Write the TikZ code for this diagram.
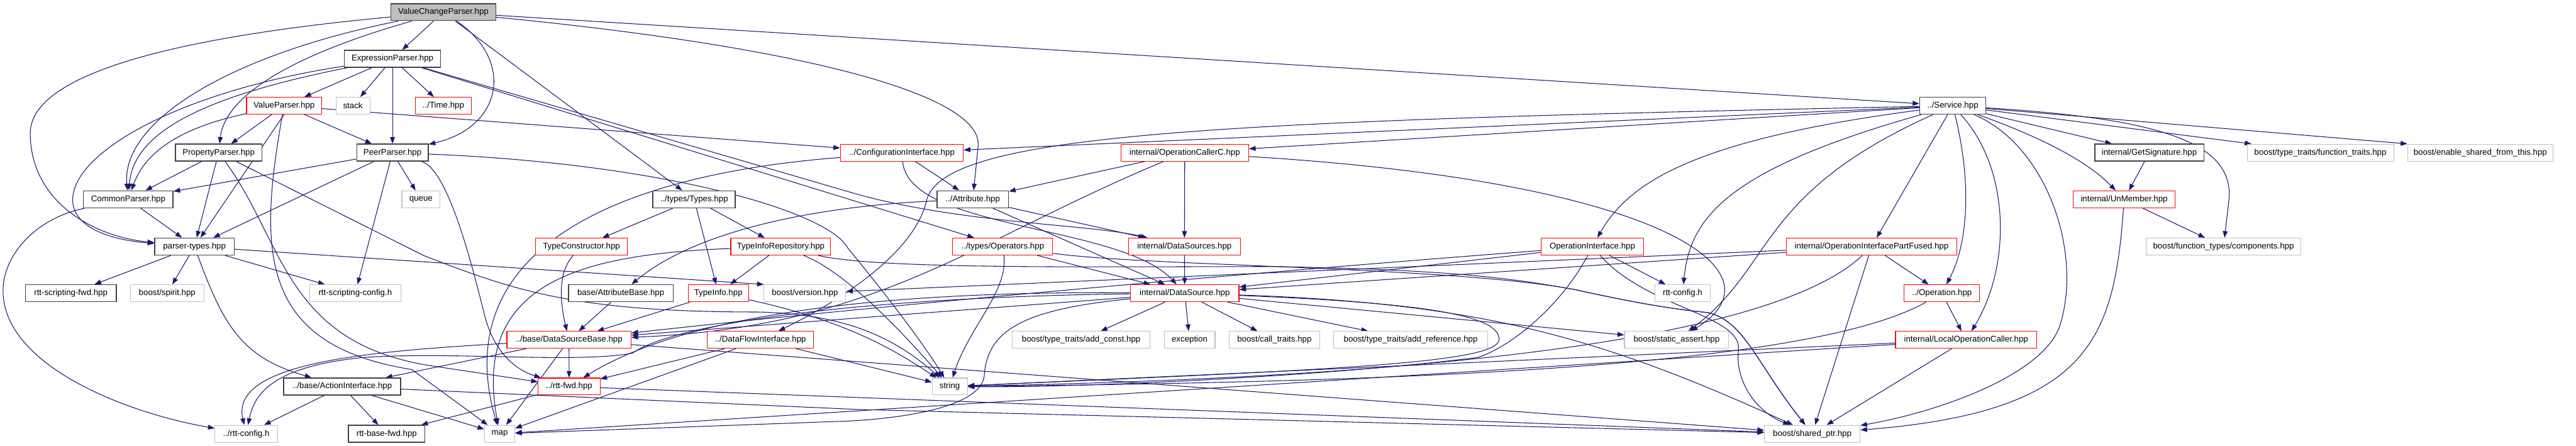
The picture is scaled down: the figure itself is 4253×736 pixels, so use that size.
\documentclass[tikz,border=0pt]{standalone}
\usepackage{fontspec}
\setmainfont{Liberation Sans}
\usetikzlibrary{arrows.meta,backgrounds}
\definecolor{dxnavy}{HTML}{191970}
\definecolor{dxred}{HTML}{FF0000}
\definecolor{dxgray}{HTML}{BFBFBF}
\definecolor{dxdark}{HTML}{404040}
\tikzset{
  box/.style={draw,fill=white,line width=1.1pt,minimum height=28pt,inner sep=0pt,font=\fontsize{13.8}{16}\selectfont},
  rootbox/.style={box,fill=dxgray,draw=dxdark,line width=1.5pt},
  docbox/.style={box,draw=dxdark,line width=1.5pt},
  redbox/.style={box,draw=dxred},
  sysbox/.style={box,draw=dxgray},
  wd/.style={minimum width=#1pt},
  ar/.style={-{Triangle[length=11pt,width=8pt]},draw=dxnavy,line width=1.1pt},
}

\begin{document}
\begin{tikzpicture}[x=1pt,y=-1pt]
\useasboundingbox (0,0) rectangle (4253,736);
% files
\node[rootbox,wd=173] (vcp) at (732,20) {ValueChangeParser.hpp};
\node[docbox,wd=159] (ep) at (648,97) {ExpressionParser.hpp};
\node[redbox,wd=124] (vp) at (469,174.5) {ValueParser.hpp};
\node[sysbox,wd=56] (stack) at (582.6,174.5) {stack};
\node[redbox,wd=93] (time) at (732,174.5) {../Time.hpp};
\node[docbox,wd=109] (svc) at (3224,174.5) {../Service.hpp};
\node[docbox,wd=143] (pp) at (361,252) {PropertyParser.hpp};
\node[docbox,wd=118] (peer) at (648,252) {PeerParser.hpp};
\node[redbox,wd=203] (ci) at (1489,252) {../ConfigurationInterface.hpp};
\node[redbox,wd=211] (occ) at (1956,252) {internal/OperationCallerC.hpp};
\node[docbox,wd=180] (gs) at (3548.5,252) {internal/GetSignature.hpp};
\node[sysbox,wd=242] (ft) at (3831,252) {boost/type\_traits/function\_traits.hpp};
\node[sysbox,wd=240] (esft) at (4095,252) {boost/enable\_shared\_from\_this.hpp};
\node[docbox,wd=148] (cp) at (211.7,329) {CommonParser.hpp};
\node[sysbox,wd=63] (queue) at (695,329) {queue};
\node[docbox,wd=136] (types) at (1146,329) {../types/Types.hpp};
\node[docbox,wd=118] (attr) at (1606,329) {../Attribute.hpp};
\node[redbox,wd=168] (um) at (3507,329) {internal/UnMember.hpp};
\node[docbox,wd=131] (pt) at (321,407) {parser-types.hpp};
\node[redbox,wd=151] (tc) at (960,407) {TypeConstructor.hpp};
\node[redbox,wd=165] (tir) at (1289,407) {TypeInfoRepository.hpp};
\node[redbox,wd=165] (ops) at (1655.5,407) {../types/Operators.hpp};
\node[redbox,wd=185] (dss) at (1955.5,407) {internal/DataSources.hpp};
\node[redbox,wd=170] (oi) at (2629,407) {OperationInterface.hpp};
\node[redbox,wd=282] (oipf) at (3090,407) {internal/OperationInterfacePartFused.hpp};
\node[sysbox,wd=255] (comp) at (3671,407) {boost/function\_types/components.hpp};
\node[docbox,wd=150] (sfwd) at (117,484) {rtt-scripting-fwd.hpp};
\node[sysbox,wd=121] (spirit) at (276,484) {boost/spirit.hpp};
\node[sysbox,wd=150] (scfg) at (586.5,484) {rtt-scripting-config.h};
\node[docbox,wd=173] (ab) at (1025,484) {base/AttributeBase.hpp};
\node[redbox,wd=100] (ti) at (1186,484) {TypeInfo.hpp};
\node[sysbox,wd=135] (ver) at (1329,484) {boost/version.hpp};
\node[redbox,wd=179] (ds) at (1956,484) {internal/DataSource.hpp};
\node[sysbox,wd=91] (rcfg) at (2778,484) {rtt-config.h};
\node[redbox,wd=125] (op) at (3206,484) {../Operation.hpp};
\node[redbox,wd=205] (dsb) at (939.4,561) {../base/DataSourceBase.hpp};
\node[redbox,wd=176] (dfi) at (1255.5,561) {../DataFlowInterface.hpp};
\node[sysbox,wd=228] (addc) at (1785,561) {boost/type\_traits/add\_const.hpp};
\node[sysbox,wd=84] (exc) at (1964,561) {exception};
\node[sysbox,wd=150] (ct) at (2104,561) {boost/call\_traits.hpp};
\node[sysbox,wd=254] (addr) at (2329,561) {boost/type\_traits/add\_reference.hpp};
\node[sysbox,wd=172] (sa) at (2768,561) {boost/static\_assert.hpp};
\node[redbox,wd=233] (loc) at (3246,561) {internal/LocalOperationCaller.hpp};
\node[docbox,wd=193] (ai) at (565,638) {../base/ActionInterface.hpp};
\node[redbox,wd=102] (fwd) at (939.6,638) {../rtt-fwd.hpp};
\node[sysbox,wd=58] (string) at (1568,638) {string};
\node[sysbox,wd=103] (rcfg2) at (406.5,716) {../rtt-config.h};
\node[docbox,wd=126] (bfwd) at (638.4,716) {rtt-base-fwd.hpp};
\node[sysbox,wd=50] (map) at (825,716) {map};
\node[sysbox,wd=158] (sp) at (2992,716) {boost/shared\_ptr.hpp};

\begin{scope}[on background layer]
\fill[white] (0,0) rectangle (4253,736);
% includes of ValueChangeParser.hpp
\draw[ar] (vcp) .. controls (300,60) and (50,120) .. (50,220) .. controls (50,330) and (150,390) .. (pt);
\draw[ar] (vcp) .. controls (380,90) and (200,200) .. (cp);
\draw[ar] (vcp) .. controls (450,100) and (370,170) .. (pp);
\draw[ar] (vcp) -- (ep);
\draw[ar] (vcp) .. controls (850,100) and (830,210) .. (peer);
\draw[ar] (vcp) -- (types);
\draw[ar] (vcp) -- (svc);
\draw[ar] (vcp) .. controls (1350,80) and (1620,160) .. (1615,240) -- (attr);
% parsers
\draw[ar] (ep) -- (vp);
\draw[ar] (ep) -- (stack);
\draw[ar] (ep) -- (time);
\draw[ar] (ep) -- (peer);
\draw[ar] (ep) .. controls (330,160) and (220,220) .. (cp);
\draw[ar] (ep) .. controls (300,150) and (120,250) .. (120,330) .. controls (120,370) and (170,395) .. (pt);
\draw[ar] (ep) -- (1420,322) .. controls (1600,370) and (1800,370) .. (dss);
\draw[ar] (ep) -- (ops);
\draw[ar] (vp) .. controls (300,210) and (240,250) .. (cp);
\draw[ar] (vp) -- (pp);
\draw[ar] (vp) -- (peer);
\draw[ar] (vp.south) -- (pt);
\draw[ar] (vp) -- (ci);
\draw[ar] (vp) .. controls (425,420) and (430,570) .. (680,610) -- (map);
\draw[ar] (pp) -- (cp);
\draw[ar] (pp) -- (pt);
\draw[ar] (pp) .. controls (470,400) and (470,570) .. (720,605) -- (fwd);
\draw[ar] (pp) -- (700,422) .. controls (850,480) and (950,515) .. (1250,515) .. controls (1400,518) and (1480,560) .. (string);
\draw[ar] (peer) -- (cp);
\draw[ar] (peer) -- (pt);
\draw[ar] (peer) -- (scfg);
\draw[ar] (peer) -- (queue);
\draw[ar] (peer) .. controls (740,280) and (780,440) .. (800,520) .. controls (815,580) and (850,610) .. (fwd);
\draw[ar] (peer) .. controls (1100,270) and (1370,350) .. (1400,410) .. controls (1450,470) and (1520,560) .. (string);
\draw[ar] (cp) -- (pt);
\draw[ar] (cp) .. controls (60,360) and (5,420) .. (5,480) .. controls (5,600) and (200,680) .. (rcfg2);
\draw[ar] (pt) -- (sfwd);
\draw[ar] (pt) -- (spirit);
\draw[ar] (pt) -- (scfg);
\draw[ar] (pt) .. controls (370,540) and (400,590) .. (ai);
\draw[ar] (pt) -- (ver.north west);
\draw[ar] (ai) -- (rcfg2);
\draw[ar] (ai) -- (bfwd);
\draw[ar] (ai) -- (map);
\draw[ar] (ai) -- (1420,676) -- (sp);
\draw[ar] (fwd) -- (bfwd);
\draw[ar] (fwd) -- (sp);
% types
\draw[ar] (types) -- (tc);
\draw[ar] (types) -- (ti);
\draw[ar] (types) -- (tir);
\draw[ar] (tc) .. controls (920,450) and (925,500) .. (dsb);
\draw[ar] (tir) -- (ti);
\draw[ar] (tir) .. controls (950,420) and (780,470) .. (map);
\draw[ar] (tir) .. controls (1400,450) and (1500,560) .. (string);
\draw[ar] (tir) .. controls (1450,445) and (1800,440) .. (2100,440) .. controls (2400,445) and (2500,460) .. (2600,478) .. controls (2700,500) and (2760,510) .. (2820,516) .. controls (2880,530) and (2900,600) .. (sp);
\draw[ar] (ti) -- (dsb);
\draw[ar] (ti) .. controls (1400,530) and (1480,580) .. (string);
\draw[ar] (ab) -- (dsb);
\draw[ar] (dsb) -- (fwd);
\draw[ar] (dsb) -- (map);
\draw[ar] (dsb) .. controls (600,580) and (380,600) .. (rcfg2);
\draw[ar] (dsb) -- (ai);
\draw[ar] (dsb) -- (sp);
\draw[ar] (dfi) -- (fwd);
\draw[ar] (dfi) -- (map);
\draw[ar] (dfi) -- (string);
\draw[ar] (ops) .. controls (1665,480) and (1600,540) .. (string);
\draw[ar] (ops) -- (ds);
\draw[ar] (ops) .. controls (1900,440) and (2400,440) .. (2600,478) .. controls (2700,500) and (2760,510) .. (2820,516) .. controls (2880,530) and (2900,600) .. (sp);
% attributes, data sources
\draw[ar] (dss) -- (ds);
\draw[ar] (attr) .. controls (1350,340) and (1150,380) .. (ab);
\draw[ar] (attr) -- (ds);
\draw[ar] (attr) -- (dss);
\draw[ar] (ci) -- (attr);
\draw[ar] (ci) .. controls (1500,380) and (1850,370) .. (ds);
\draw[ar] (ci) .. controls (1000,290) and (740,420) .. (map);
\draw[ar] (occ) -- (attr);
\draw[ar] (occ) -- (dss);
\draw[ar] (occ) .. controls (1600,400) and (1450,540) .. (dsb);
\draw[ar] (occ) .. controls (2750,300) and (2950,450) .. (sa);
\draw[ar] (ds) -- (addc);
\draw[ar] (ds) -- (exc);
\draw[ar] (ds) -- (ct);
\draw[ar] (ds) -- (addr);
\draw[ar] (ds) -- (sa);
\draw[ar] (ds) -- (dsb);
\draw[ar] (ds) .. controls (1450,480) and (1130,520) .. (fwd);
\draw[ar] (ds) .. controls (1450,490) and (1120,530) .. (1044,583) .. controls (950,600) and (750,580) .. (600,590) .. controls (450,605) and (420,650) .. (rcfg2);
\draw[ar] (ds) .. controls (1700,510) and (1630,540) .. (1625,620) .. controls (1620,670) and (1500,690) .. (1400,695) -- (map);
\draw[ar] (ds) .. controls (2350,500) and (2475,520) .. (2475,560) .. controls (2475,600) and (2200,610) .. (string);
\draw[ar] (ds) .. controls (2450,500) and (2650,560) .. (sp);
% operations
\draw[ar] (oi) -- (ds);
\draw[ar] (oi) .. controls (2000,455) and (1400,510) .. (dsb);
\draw[ar] (oi) -- (rcfg);
\draw[ar] (oi) .. controls (2580,500) and (2500,570) .. (2440,590) .. controls (2200,620) and (1800,640) .. (string);
\draw[ar] (oi) .. controls (2720,510) and (2880,520) .. (2870,580) .. controls (2865,630) and (2900,680) .. (sp);
\draw[ar] (oipf) -- (ds);
\draw[ar] (oipf) -- (ver);
\draw[ar] (oipf) .. controls (2950,540) and (2500,620) .. (string);
\draw[ar] (oipf) -- (sp);
\draw[ar] (oipf) -- (op);
\draw[ar] (op) -- (loc);
\draw[ar] (op) .. controls (3000,600) and (2400,630) .. (string);
\draw[ar] (loc) -- (string);
\draw[ar] (loc) -- (sp);
\draw[ar] (loc) -- (map);
% service
\draw[ar] (svc) -- (ci);
\draw[ar] (svc) .. controls (2000,200) and (1560,220) .. (1530,330) .. controls (1510,420) and (1380,500) .. (dfi);
\draw[ar] (svc) -- (occ);
\draw[ar] (svc) .. controls (2800,230) and (2690,300) .. (oi);
\draw[ar] (svc) .. controls (2850,280) and (2790,360) .. (rcfg);
\draw[ar] (svc) .. controls (2900,320) and (2930,440) .. (sa);
\draw[ar] (svc) -- (oipf);
\draw[ar] (svc) .. controls (3255,300) and (3250,400) .. (op);
\draw[ar] (svc) .. controls (3320,280) and (3320,440) .. (loc);
\draw[ar] (svc) .. controls (3380,240) and (3440,420) .. (3400,540) .. controls (3370,620) and (3200,680) .. (sp);
\draw[ar] (svc) .. controls (3380,230) and (3450,270) .. (um);
\draw[ar] (svc) -- (gs);
\draw[ar] (svc) -- (ft);
\draw[ar] (svc) -- (esft.north west);
\draw[ar] (svc) .. controls (3550,195) and (3690,230) .. (3680,330) -- (comp);
\draw[ar] (gs) -- (um);
\draw[ar] (um) -- (comp);
\draw[ar] (um) .. controls (3490,560) and (3450,680) .. (sp);
\end{scope}
\end{tikzpicture}
\end{document}
